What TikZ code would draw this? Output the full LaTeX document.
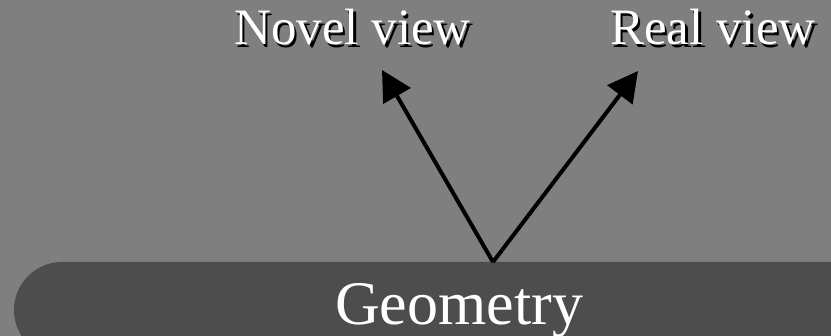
\documentclass[tikz,border=0pt]{standalone}
\usepackage{fontspec}
\setmainfont{Liberation Serif}
\usetikzlibrary{arrows.meta}
\definecolor{bggray}{HTML}{7F7F7F}
\definecolor{bargray}{HTML}{4D4D4D}
\newcommand{\shtext}[1]{\makebox[0pt][l]{\hspace{2.5pt}\raisebox{-2.5pt}{\color{black}#1}}\color{white}#1}

\begin{document}
\begin{tikzpicture}[x=1pt,y=-1pt,
  viewlabel/.style={anchor=base west,inner sep=0pt,font=\fontsize{51}{60}\selectfont},
  arr/.style={line width=4pt,-{Triangle[length=30pt,width=31pt]}}]
\fill[bggray] (0,0) rectangle (831,336);
\useasboundingbox (0,0) rectangle (831,336);
\begin{scope}
\clip (0,0) rectangle (831,336);
\fill[bargray,rounded corners=48pt] (14,262) rectangle (900,358);
\end{scope}
\node[anchor=base west,inner sep=0pt,text=white,font=\fontsize{62}{70}\selectfont] (geom) at (335,325) {Geometry};
\node[viewlabel] (novel) at (234,45) {\shtext{Novel view}};
\node[viewlabel] (real) at (610,45) {\shtext{Real view}};
\coordinate (base) at (493,262);
\coordinate (novelTip) at (382,70);
\coordinate (realTip) at (638,71);
\draw[arr] (base) -- (novelTip);
\draw[arr] (base) -- (realTip);
\end{tikzpicture}
\end{document}
